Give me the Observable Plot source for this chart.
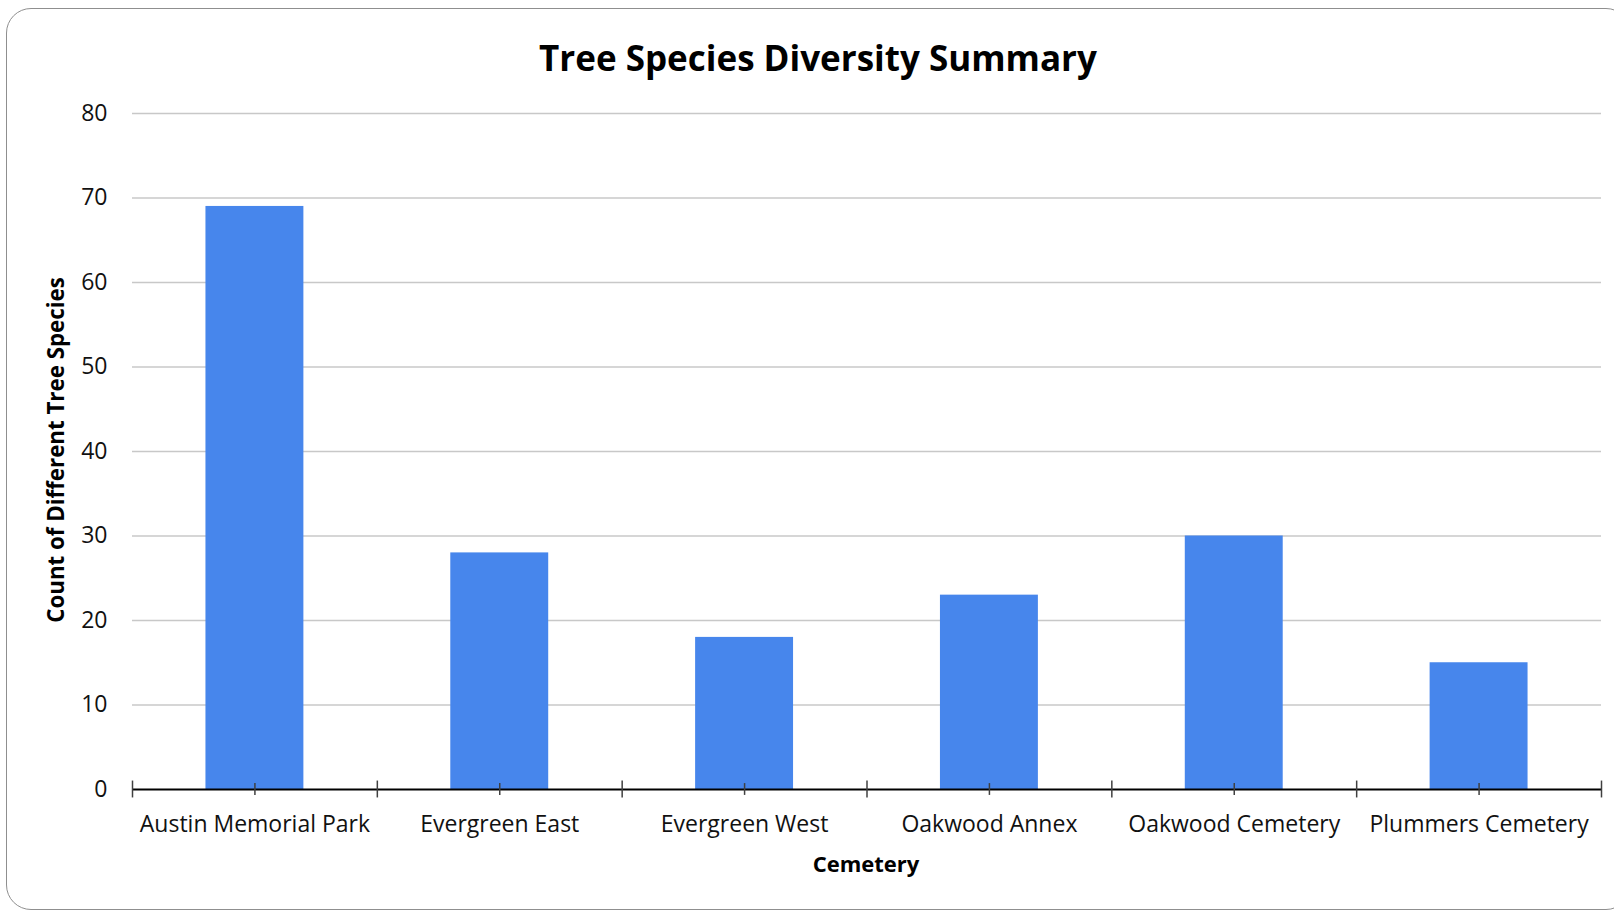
<!DOCTYPE html>
<html>
<head>
<meta charset="utf-8">
<script src="https://cdn.jsdelivr.net/npm/d3@7"></script>
<script src="https://cdn.jsdelivr.net/npm/@observablehq/plot@0.6"></script>
<style>
  html, body { margin: 0; padding: 0; overflow: hidden; background: #fff; }
  #wrap { position: relative; width: 1614px; height: 911px; overflow: hidden; font-family: "Open Sans", sans-serif; }
  #frame { position: absolute; left: 6px; top: 8px; width: 1625px; height: 902px; border: 1.5px solid #8f8f8f; border-radius: 25px; box-sizing: border-box; }
  #title { position: absolute; left: 218px; width: 1200px; top: 40px; text-align: center; font-size: 35px; line-height: 1; font-weight: 700; color: #000; }
  #ylabel { position: absolute; left: 56px; top: 450px; transform: translate(-50%, -50%) rotate(-90deg); white-space: nowrap; font-size: 22.3px; line-height: 1; font-weight: 700; color: #000; }
  #xlabel { position: absolute; left: 866px; top: 863px; transform: translate(-50%, -50%); white-space: nowrap; font-size: 22px; line-height: 1; font-weight: 700; color: #000; }
  #chart { position: absolute; left: 0; top: 95px; }
</style>
</head>
<body>
<div id="wrap">
  <div id="frame"></div>
  <div id="title">Tree Species Diversity Summary</div>
  <div id="chart"></div>
  <div id="ylabel">Count of Different Tree Species</div>
  <div id="xlabel">Cemetery</div>
</div>
<script>
const categories = ["Austin Memorial Park", "Evergreen East", "Evergreen West", "Oakwood Annex", "Oakwood Cemetery", "Plummers Cemetery"];
const speciesCounts = [69, 28, 18, 23, 30, 15];
const yTicks = [0, 10, 20, 30, 40, 50, 60, 70, 80];

const rows = categories.map((c, i) => ({cemetery: c, count: speciesCounts[i]}));

const W = 1614, H = 816;
const mL = 132, mR = 13, mT = 18, mB = 122;
const step = (W - mL - mR) / categories.length;

const chart = Plot.plot({
  width: W,
  height: H,
  marginLeft: mL,
  marginRight: mR,
  marginTop: mT,
  marginBottom: mB,
  style: {fontFamily: "Open Sans, sans-serif", fontSize: "23px", color: "#111", background: "transparent", overflow: "visible"},
  x: {domain: categories, paddingInner: 0.6, paddingOuter: 0.3, round: false, tickSize: 0, tickPadding: 26, label: null},
  y: {domain: [0, 80], ticks: yTicks, tickSize: 0, tickPadding: 25, label: null},
  marks: [
    Plot.ruleY(yTicks.filter(t => t > 0), {stroke: "#c8c8c8", strokeWidth: 1.7}),
    Plot.barY(rows, {x: "cemetery", y: "count", fill: "#4786ec"}),
    Plot.ruleY([0], {stroke: "#000", strokeWidth: 2}),
    Plot.ruleX(categories, {x: d => d, dx: -step / 2, y1: -1, y2: 1, stroke: "#404040", strokeWidth: 1.5}),
    Plot.ruleX(categories.slice(-1), {x: d => d, dx: step / 2, y1: -1, y2: 1, stroke: "#404040", strokeWidth: 1.5}),
    Plot.ruleX(categories, {x: d => d, y1: -0.7, y2: 0.7, stroke: "#404040", strokeWidth: 1.5})
  ]
});
document.getElementById("chart").appendChild(chart);
</script>
</body>
</html>
